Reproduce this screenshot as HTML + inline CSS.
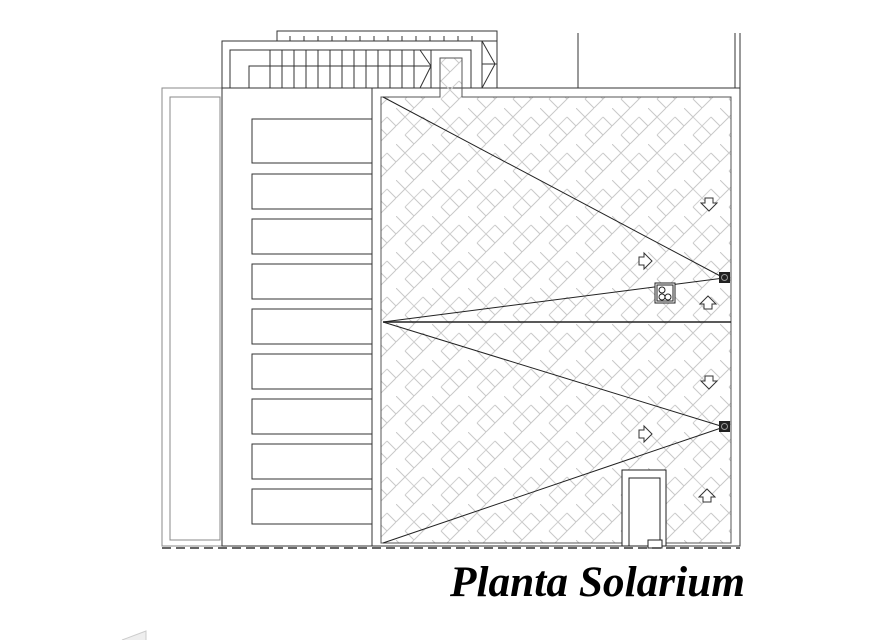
<!DOCTYPE html>
<html><head><style>html,body{margin:0;padding:0;background:#fff}svg{display:block}</style></head>
<body>
<svg width="878" height="640" viewBox="0 0 878 640" xmlns="http://www.w3.org/2000/svg">
<defs>
<pattern id="hb" width="36" height="36" patternUnits="userSpaceOnUse">
<path d="M0 18 L18 0 M18 36 L36 18 M0 0 L9 9 M18 18 L27 27 M9 27 L18 36 M27 9 L36 18 M9 9 L0 18 M27 27 L18 36" stroke="#c8c8c8" stroke-width="1" fill="none"/>
<path d="M9 9 L18 18 M9 27 L18 18 M27 9 L18 18" stroke="#d0d0d0" stroke-width="1" fill="none"/>
</pattern>
</defs>
<g fill="none" stroke="#333" stroke-width="1">
<rect x="162" y="88" width="60" height="458" stroke="#888"/>
<rect x="170" y="97" width="50" height="443" stroke="#888"/>
<rect x="222" y="88" width="150" height="458"/>
<rect x="252" y="119" width="120" height="44"/>
<rect x="252" y="174" width="120" height="35"/>
<rect x="252" y="219" width="120" height="35"/>
<rect x="252" y="264" width="120" height="35"/>
<rect x="252" y="309" width="120" height="35"/>
<rect x="252" y="354" width="120" height="35"/>
<rect x="252" y="399" width="120" height="35"/>
<rect x="252" y="444" width="120" height="35"/>
<rect x="252" y="489" width="120" height="35"/>
<rect x="277" y="31" width="220" height="10"/>
<path d="M290 36V41M304 36V41M318 36V41M332 36V41M346 36V41M360 36V41M374 36V41M388 36V41M402 36V41M416 36V41M430 36V41M444 36V41M458 36V41M472 36V41"/>
<rect x="222" y="41" width="260" height="47"/>
<rect x="482" y="41" width="15" height="47"/>
<path d="M482 41 L495 64 L482 88 M482 64 H497"/>
<rect x="230" y="50" width="201" height="38"/>
<path d="M249 88V66H431"/>
<path d="M270 50V88M282 50V88M294 50V88M306 50V88M318 50V88M330 50V88M342 50V88M354 50V88M366 50V88M378 50V88M390 50V88M402 50V88M414 50V88"/>
<path d="M420 50 L431 66 L420 88"/>
<path d="M578 33V88M735 33V88M740 33V88"/>
<path d="M372 88H431V50H471V88H740V546H372Z"/>
</g>
<path d="M381 97H440V58H462V97H731V543H381Z" fill="url(#hb)" stroke="#555"/>
<g fill="none" stroke="#222" stroke-width="1">
<path d="M383 322H731" stroke-width="1.5"/>
<path d="M383 97L724 278M383 322L724 278M383 322L724 427M383 543L724 427"/>
<rect x="622" y="470" width="44" height="76" fill="#fff"/>
<rect x="629" y="478" width="31" height="68" fill="#fff"/>
<rect x="655" y="283" width="20" height="20" fill="#fff"/>
<rect x="657" y="285" width="16" height="16"/>
<circle cx="662" cy="290" r="3"/><circle cx="662" cy="297" r="3"/><circle cx="668" cy="297" r="3"/>
<rect x="648" y="540" width="14" height="8" fill="#fff"/>
</g>
<rect x="719" y="272" width="11" height="11" fill="#222"/>
<rect x="719" y="421" width="11" height="11" fill="#222"/>
<circle cx="724.5" cy="277.5" r="3" fill="none" stroke="#999"/>
<circle cx="724.5" cy="426.5" r="3" fill="none" stroke="#999"/>
<g fill="#fff" stroke="#333" stroke-width="1">
<path d="M705 198h8v5h4l-8 8l-8-8h4z"/>
<path d="M639 257v8h5v4l8-8l-8-8v4z"/>
<path d="M704 309v-5h-4l8-8l8 8h-4v5z"/>
<path d="M705 376h8v5h4l-8 8l-8-8h4z"/>
<path d="M639 430v8h5v4l8-8l-8-8v4z"/>
<path d="M703 502v-5h-4l8-8l8 8h-4v5z"/>
</g>
<path d="M162 548H740" stroke="#333" stroke-width="1.5" stroke-dasharray="9,5"/>
<text x="450" y="596" font-family="Liberation Serif, serif" font-style="italic" font-weight="bold" font-size="43" textLength="295" lengthAdjust="spacingAndGlyphs" fill="#000">Planta Solarium</text>
<path d="M122 640L146 631V640" fill="#eee" stroke="#ccc"/>
</svg>
</body></html>
